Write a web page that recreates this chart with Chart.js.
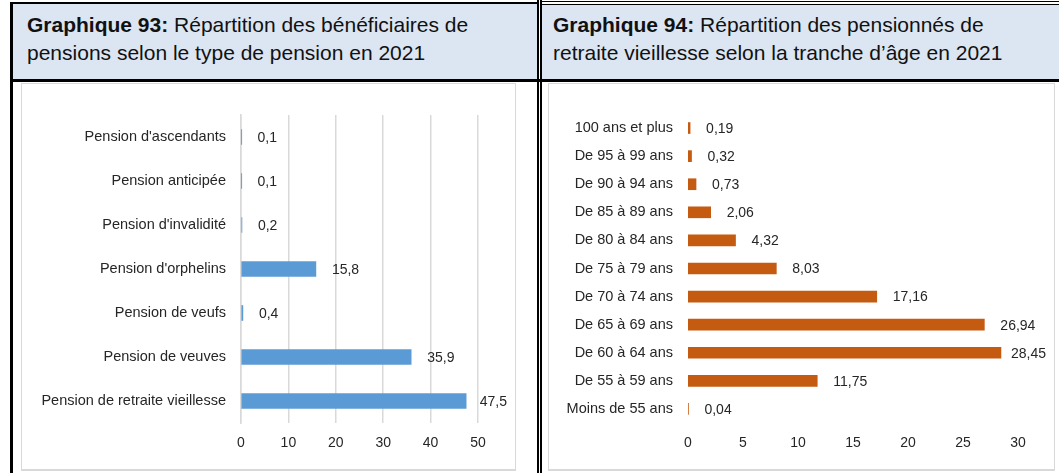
<!DOCTYPE html>
<html lang="fr">
<head>
<meta charset="utf-8">
<title>Graphiques 93 et 94</title>
<script src="https://cdn.jsdelivr.net/npm/chart.js@4"></script>
<style>
  body { margin: 0; width: 1059px; height: 473px; background: #fff; position: relative; overflow: hidden;
         font-family: "Liberation Sans", Arial, sans-serif; }
  .line { position: absolute; background: #000; }
  .head { position: absolute; background: #dce6f2; top: 4px; height: 75px; }
  .head p { margin: 0; font-size: 21px; line-height: 28px; color: #111; white-space: nowrap; }
  .box { position: absolute; top: 83px; height: 385px; border: 1px solid #d9d9d9; border-bottom-width: 2px; }
  canvas { position: absolute; left: 0; top: 0; }
</style>
</head>
<body>

<div class="head" style="left:13px; width:524px;">
  <p style="padding:7px 0 0 14px;"><b>Graphique 93:</b> Répartition des bénéficiaires de<br>pensions selon le type de pension en 2021</p>
</div>
<div class="head" style="left:542px; width:517px;">
  <p style="padding:7px 0 0 11px;"><b>Graphique 94:</b> Répartition des pensionnés de<br>retraite vieillesse selon la tranche d’âge en 2021</p>
</div>

<div class="line" style="left:10px; top:2px; width:527px; height:2px;"></div>
<div class="line" style="left:540px; top:1px; width:519px; height:1px;"></div>
<div class="line" style="left:540px; top:4px; width:519px; height:1px;"></div>
<div class="line" style="left:10px; top:2px; width:3px; height:471px;"></div>
<div class="line" style="left:10px; top:79px; width:1049px; height:3px;"></div>
<div class="line" style="left:537px; top:0; width:2px; height:473px;"></div>
<div class="line" style="left:540px; top:0; width:2px; height:473px;"></div>

<div class="box" style="left:21px; width:493px;"><canvas id="chart93" width="493" height="385"></canvas></div>
<div class="box" style="left:548px; width:505px;"><canvas id="chart94" width="505" height="385"></canvas></div>

<script>
const pensionTypes = ["Pension d'ascendants", "Pension anticipée", "Pension d'invalidité", "Pension d'orphelins",
                      "Pension de veufs", "Pension de veuves", "Pension de retraite vieillesse"];
const pensionShares = [0.1, 0.1, 0.2, 15.8, 0.4, 35.9, 47.5];

const ageGroups = ["100 ans et plus", "De 95 à 99 ans", "De 90 à 94 ans", "De 85 à 89 ans", "De 80 à 84 ans",
                   "De 75 à 79 ans", "De 70 à 74 ans", "De 65 à 69 ans", "De 60 à 64 ans", "De 55 à 59 ans",
                   "Moins de 55 ans"];
const ageShares = [0.19, 0.32, 0.73, 2.06, 4.32, 8.03, 17.16, 26.94, 28.45, 11.75, 0.04];

const font = { family: "'Liberation Sans', Arial, sans-serif", size: 14.5 };
const textColor = "#262626";

// value labels to the right of each bar, pulled back in if they would run off the canvas
const valueLabels = {
  id: "valueLabels",
  afterDatasetsDraw(chart) {
    const ctx = chart.ctx;
    ctx.save();
    ctx.font = "14px " + font.family;
    ctx.fillStyle = textColor;
    ctx.textBaseline = "middle";
    chart.getDatasetMeta(0).data.forEach((bar, i) => {
      const txt = String(chart.data.datasets[0].data[i]).replace(".", ",");
      let x = bar.x + 16;
      const w = ctx.measureText(txt).width;
      if (x + w > chart.width - 8) x = chart.width - 8 - w;
      ctx.fillText(txt, x, bar.y + 1);
    });
    ctx.restore();
  }
};

function makeChart(id, labels, values, color, opts) {
  return new Chart(document.getElementById(id), {
    type: "bar",
    data: {
      labels: labels,
      datasets: [{ data: values, backgroundColor: color, barThickness: opts.thickness }]
    },
    options: {
      indexAxis: "y",
      responsive: false,
      animation: false,
      layout: { padding: { top: opts.top, right: opts.right, left: 0, bottom: 0 } },
      plugins: { legend: { display: false }, tooltip: { enabled: false } },
      scales: {
        x: {
          min: 0, max: opts.max,
          ticks: { stepSize: opts.step, font: { family: font.family, size: 14 }, color: textColor, padding: 12 },
          grid: { display: opts.grid, color: "#d9d9d9", lineWidth: 1.5, drawTicks: false },
          border: { display: false },
          afterFit: s => { s.height = 46; }
        },
        y: {
          ticks: { font: font, color: textColor, padding: 15 },
          grid: { display: false, drawTicks: false },
          border: { display: opts.grid, color: "#d9d9d9", width: 1.5 },
          afterFit: s => { s.width = opts.axisWidth; }
        }
      }
    },
    plugins: [valueLabels]
  });
}

makeChart("chart93", pensionTypes, pensionShares, "#5b9bd5",
  { max: 50, step: 10, grid: true, thickness: 15, top: 31, right: 37, axisWidth: 219 });
makeChart("chart94", ageGroups, ageShares, "#c55a11",
  { max: 30, step: 5, grid: false, thickness: 11, top: 30, right: 36, axisWidth: 139 });
</script>
</body>
</html>
